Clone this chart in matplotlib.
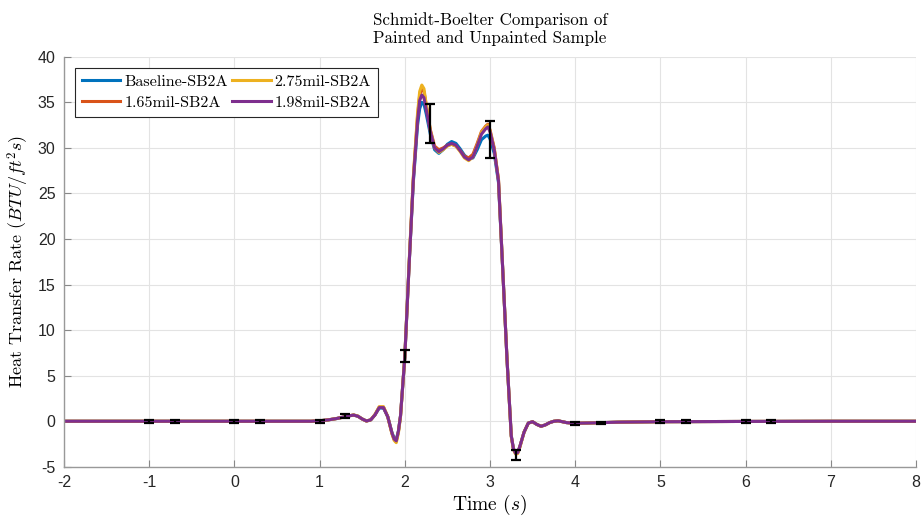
import numpy as np
import matplotlib
matplotlib.use('Agg')
import matplotlib.pyplot as plt

plt.rcParams['mathtext.fontset'] = 'cm'
plt.rcParams['font.family'] = ['Liberation Sans', 'DejaVu Sans']
plt.rcParams['axes.unicode_minus'] = False

# time base (s)
t = [-2, -1, 0, 0.5, 0.9, 1.0, 1.1, 1.2, 1.3,
     1.35, 1.4, 1.45, 1.5, 1.55, 1.6, 1.65, 1.7, 1.75,
     1.8, 1.85, 1.875, 1.9, 1.925, 1.95,
     2.0, 2.05, 2.1, 2.15, 2.175, 2.2, 2.225, 2.25,
     2.3, 2.35, 2.4, 2.45, 2.5, 2.55, 2.6, 2.65, 2.7, 2.75, 2.8, 2.85, 2.9,
     2.95, 2.975, 3.0, 3.05, 3.1, 3.15, 3.2, 3.25, 3.275, 3.3, 3.325,
     3.35, 3.4, 3.45, 3.5, 3.55, 3.6, 3.65, 3.7, 3.75, 3.8, 3.85, 3.9,
     4.0, 4.2, 4.5, 5, 6, 7, 8]

baseline = [0, 0, 0, 0, 0.0, 0.05, 0.15, 0.3, 0.5,
            0.6, 0.68, 0.55, 0.25, 0.03, 0.15, 0.7, 1.45, 1.45,
            0.5, -1.25, -1.85, -2.0, -1.1, 0.6,
            7.0, 17.0, 26.2, 32.5, 34.3, 35.0, 34.8, 33.8,
            31.5, 29.8, 29.4, 29.8, 30.4, 30.7, 30.5, 29.9, 29.2, 28.8, 28.9, 29.8, 30.9,
            31.3, 31.4, 31.0, 29.4, 26.2, 16.6, 6.8, -1.6, -3.0, -3.5, -3.45,
            -2.8, -1.2, -0.2, -0.05, -0.35, -0.55, -0.4, -0.15, 0.0, 0.05, -0.05, -0.15,
            -0.22, -0.18, -0.1, -0.05, -0.02, 0, 0]

mil165 = [0, 0, 0, 0, 0.0, 0.05, 0.15, 0.3, 0.5,
          0.6, 0.68, 0.55, 0.25, 0.03, 0.15, 0.7, 1.55, 1.55,
          0.5, -1.35, -2.0, -2.2, -1.15, 0.6,
          7.0, 17.0, 26.6, 33.5, 35.8, 36.5, 36.2, 34.8,
          32.0, 30.2, 29.8, 30.0, 30.3, 30.4, 30.2, 29.7, 29.1, 28.9, 29.3, 30.5, 31.8,
          32.4, 32.6, 32.0, 30.0, 26.5, 16.6, 6.8, -1.6, -3.0, -3.5, -3.45,
          -2.8, -1.2, -0.2, -0.05, -0.35, -0.55, -0.4, -0.15, 0.0, 0.05, -0.05, -0.15,
          -0.22, -0.18, -0.1, -0.05, -0.02, 0, 0]

mil275 = [0, 0, 0, 0, 0.0, 0.05, 0.15, 0.3, 0.5,
          0.6, 0.7, 0.57, 0.25, 0.02, 0.15, 0.75, 1.6, 1.6,
          0.5, -1.4, -2.1, -2.35, -1.3, 0.5,
          7.1, 17.2, 26.8, 33.8, 36.2, 36.9, 36.5, 34.9,
          31.9, 30.0, 29.5, 29.8, 30.2, 30.4, 30.2, 29.6, 28.9, 28.6, 29.0, 30.3, 31.7,
          32.3, 32.5, 31.9, 29.9, 26.5, 16.6, 6.8, -1.7, -3.1, -3.6, -3.55,
          -2.9, -1.2, -0.2, -0.05, -0.35, -0.55, -0.4, -0.15, 0.0, 0.05, -0.05, -0.15,
          -0.22, -0.18, -0.1, -0.05, -0.02, 0, 0]

mil198 = [0, 0, 0, 0, 0.0, 0.05, 0.15, 0.3, 0.5,
          0.6, 0.68, 0.55, 0.25, 0.03, 0.15, 0.7, 1.5, 1.5,
          0.5, -1.3, -1.95, -2.15, -1.1, 0.6,
          7.0, 17.0, 26.4, 33.0, 35.2, 35.8, 35.5, 34.3,
          31.8, 30.0, 29.6, 29.9, 30.3, 30.5, 30.3, 29.7, 29.0, 28.7, 29.0, 30.2, 31.5,
          32.1, 32.3, 31.8, 29.8, 26.4, 16.6, 6.8, -1.6, -3.0, -3.5, -3.45,
          -2.8, -1.2, -0.2, -0.05, -0.35, -0.55, -0.4, -0.15, 0.0, 0.05, -0.05, -0.15,
          -0.22, -0.18, -0.1, -0.05, -0.02, 0, 0]

labels = ['Baseline-SB2A', '1.65mil-SB2A', '2.75mil-SB2A', '1.98mil-SB2A']
colors = ['#0072BD', '#D95319', '#EDB120', '#7E2F8E']

# error bars
eb_t = [-1, -0.7, 0, 0.3, 1, 1.3, 2, 2.3, 3, 3.3, 4, 4.3, 5, 5.3, 6, 6.3]
eb_y = [0, 0, 0, 0, 0, 0.55, 7.15, 32.65, 30.95, -3.65, -0.22, -0.18, -0.05, -0.05, -0.02, -0.02]
eb_err = [0.15, 0.15, 0.15, 0.15, 0.15, 0.2, 0.65, 2.15, 2.05, 0.55, 0.15, 0.15, 0.15, 0.15, 0.15, 0.15]

fig = plt.figure(figsize=(9.21, 5.21), dpi=100)
ax = fig.add_axes([0.0695, 0.104, 0.925, 0.787])

for y, lab, c in zip([baseline, mil165, mil275, mil198], labels, colors):
    ax.plot(t, y, color=c, lw=2.2, label=lab)

ax.errorbar(eb_t, eb_y, yerr=eb_err, fmt='none', ecolor='black',
            elinewidth=1.6, capsize=3.5, capthick=1.6, zorder=5)

ax.set_xlim(-2, 8)
ax.set_ylim(-5, 40)
ax.set_xticks(np.arange(-2, 9, 1))
ax.set_yticks(np.arange(-5, 41, 5))
ax.grid(True, color='#e3e3e3', lw=0.8)
ax.set_axisbelow(True)
for s in ['top', 'right']:
    ax.spines[s].set_visible(False)
for s in ['left', 'bottom']:
    ax.spines[s].set_color('#999999')
    ax.spines[s].set_linewidth(1.0)
ax.tick_params(direction='in', length=5, color='#888888', labelsize=11.5,
               labelcolor='#262626', pad=6)

ax.set_title('Schmidt-Boelter Comparison of\nPainted and Unpainted Sample',
             family='cmr10', fontsize=12.2, pad=10, linespacing=1.15)
ax.set_xlabel('Time $(s)$', family='cmr10', fontsize=14, labelpad=2)
ax.set_ylabel('Heat Transfer Rate $(BTU/ft^2s)$', family='cmr10', fontsize=13, labelpad=5)

leg = ax.legend(loc='upper left', ncol=2, prop={'family': 'cmr10', 'size': 11.6},
                frameon=True, fancybox=False, framealpha=1, edgecolor='#262626',
                handlelength=2.4, handletextpad=0.25, columnspacing=0.25,
                labelspacing=0.45, borderpad=0.4, borderaxespad=0,
                bbox_to_anchor=(0.013, 0.973))
leg.get_frame().set_linewidth(0.8)

fig.savefig('out.png', dpi=100)
